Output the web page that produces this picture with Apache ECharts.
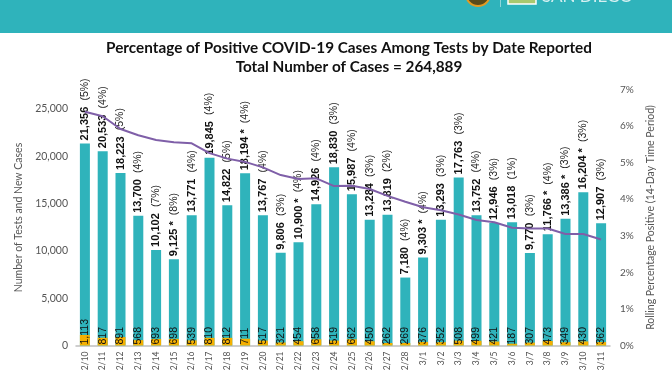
<!DOCTYPE html>
<html><head><meta charset="utf-8">
<style>html,body{margin:0;padding:0;background:#fff}#c{width:672px;height:372px}</style>
<script src="https://cdn.jsdelivr.net/npm/echarts@6/dist/echarts.min.js"></script>
</head><body><div id="c"></div>
<script>
const dates=['2/10','2/11','2/12','2/13','2/14','2/15','2/16','2/17','2/18','2/19','2/20','2/21','2/22','2/23','2/24','2/25','2/26','2/27','2/28','3/1','3/2','3/3','3/4','3/5','3/6','3/7','3/8','3/9','3/10','3/11'];
const tests=[21356,20533,18223,13700,10102,9125,13771,19845,14822,18194,13767,9806,10900,14926,18830,15987,13284,13819,7180,9303,13293,17763,13752,12946,13018,9770,11766,13386,16204,12907];
const cases=[1113,817,891,568,693,698,539,810,812,711,517,321,454,658,519,662,450,262,269,376,352,508,499,421,187,307,473,349,430,362];
const dailyPct=[5,4,5,4,7,8,4,4,5,4,4,3,4,4,3,4,3,2,4,4,3,3,4,3,1,3,4,3,3,3];
const starred=['2/15','2/19','2/22','3/1','3/8','3/9','3/10'];
const rolling=[6.39,6.27,5.92,5.75,5.62,5.56,5.53,5.26,5.11,5.02,4.87,4.66,4.55,4.57,4.36,4.37,4.28,4.09,3.93,3.78,3.70,3.58,3.43,3.37,3.22,3.2,3.2,3.05,3.05,2.9];
const titleLines=['Percentage of Positive COVID-19 Cases Among Tests by Date Reported','Total Number of Cases = 264,889'];
const FONT='Lato';
const fmt=n=>n.toLocaleString('en-US');
const chart=echarts.init(document.getElementById('c'),null,{renderer:'canvas'});
chart.setOption({
  animation:false,
  backgroundColor:'#fff',
  textStyle:{fontFamily:FONT},
  graphic:[
    {type:'rect',z:-1,shape:{x:0,y:0,width:672,height:33},style:{fill:'#2FB3BB'}},
    {type:'circle',shape:{cx:478,cy:-6,r:12},style:{fill:'#5a4a1a',stroke:'#e39a22',lineWidth:2}},
    {type:'rect',shape:{x:500,y:0,width:1,height:7},style:{fill:'#8fd6da'}},
    {type:'rect',shape:{x:508,y:-5,width:28,height:9},style:{fill:'#a9c96f',stroke:'#fff',lineWidth:1.5}},
    {type:'text',style:{x:542,y:-12,text:'SAN DIEGO',fill:'#d5f0f1',font:'17px Lato',textAlign:'left'}}
  ],
  title:[
    {text:titleLines[0],left:344,top:36,textAlign:'center',textStyle:{fontFamily:FONT,fontSize:15.3,fontWeight:700,color:'#111'}},
    {text:titleLines[1],left:344,top:55,textAlign:'center',textStyle:{fontFamily:FONT,fontSize:15.3,fontWeight:700,color:'#111'}}
  ],
  grid:{left:76,right:62,top:89.5,bottom:26.5,containLabel:false,outerBoundsMode:'none'},
  xAxis:{type:'category',data:dates,
    axisLine:{lineStyle:{color:'#bfbfbf',width:1.5}},axisTick:{show:false},
    axisLabel:{rotate:90,fontSize:8.5,color:'#555',interval:0,margin:6}},
  yAxis:[
    {type:'value',min:0,max:27050,interval:5000,splitLine:{show:false},axisLine:{show:false},axisTick:{show:false},
     name:'Number of Tests and New Cases',nameLocation:'middle',nameRotate:90,nameGap:46,nameTextStyle:{fontSize:10.5,color:'#555'},
     axisLabel:{fontSize:10.5,color:'#555',margin:8,showMaxLabel:false,formatter:v=>fmt(v)}},
    {type:'value',min:0,max:7,interval:1,splitLine:{show:false},axisLine:{show:false},axisTick:{show:false},
     name:'Rolling Percentage Positive (14-Day Time Period)',nameLocation:'middle',nameRotate:90,nameGap:35,nameTextStyle:{fontSize:10.5,color:'#555'},
     axisLabel:{fontSize:10,color:'#555',margin:10,formatter:v=>v+'%'}}
  ],
  series:[
    {type:'bar',name:'Tests',data:tests,barWidth:10,barGap:'-100%',itemStyle:{color:'#2FB3BB'},z:2,
     label:{show:true,position:'top',rotate:90,distance:3,align:'left',verticalAlign:'middle',
      formatter:p=>`{b|${fmt(p.value)}${starred.includes(p.name)?' *':''}}  {n|(${dailyPct[p.dataIndex]}%)}`,
      rich:{b:{fontFamily:'Liberation Sans',fontSize:11,fontWeight:700,color:'#111'},n:{fontFamily:'Liberation Sans',fontSize:10.5,color:'#222'}}}},
    {type:'bar',name:'Cases',data:cases,barWidth:10,itemStyle:{color:'#F5B000'},z:3,
     label:{show:true,position:'insideBottom',rotate:90,distance:1,align:'left',verticalAlign:'middle',
      fontFamily:'Liberation Sans',fontSize:10.5,color:'#111',textBorderWidth:0,formatter:p=>fmt(p.value)}},
    {type:'line',name:'Rolling',yAxisIndex:1,data:rolling,symbol:'none',lineStyle:{color:'#7F5FA8',width:2},z:4}
  ]
});
</script></body></html>
